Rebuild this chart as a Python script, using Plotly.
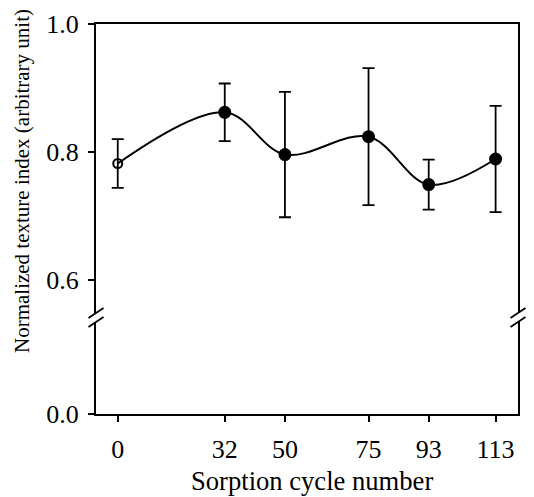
import plotly.graph_objects as go

# ---- data ----
cycles = [0, 32, 50, 75, 93, 113]
texture = [0.782, 0.862, 0.796, 0.824, 0.749, 0.789]
texture_err = [0.038, 0.045, 0.098, 0.107, 0.039, 0.083]
marker_symbols = ["circle-open", "circle", "circle", "circle", "circle", "circle"]
x_tick_vals = [0, 32, 50, 75, 93, 113]
y_ticks_upper = [0.6, 0.8, 1.0]
y_ticks_lower = [0.0]

FONT = "Liberation Serif, Times New Roman, serif"
W, H = 534, 497
ML, MR, MT, MB = 96, 16, 24, 83
PW = W - ML - MR
PH = H - MT - MB

upper_dom = [0.259, 1.0]
lower_dom = [0.0, 0.236]

fig = go.Figure()

fig.add_trace(go.Scatter(
    x=cycles, y=texture,
    mode="lines+markers",
    line=dict(color="black", width=2, shape="spline", smoothing=1.0),
    marker=dict(symbol=marker_symbols, size=[9, 11, 11, 11, 11, 11],
                color="black", opacity=1, line=dict(color="black", width=2)),
    error_y=dict(type="data", array=texture_err, visible=True,
                 color="black", thickness=1.8, width=6),
    xaxis="x", yaxis="y",
    showlegend=False, hoverinfo="skip",
))
# empty helper traces so that the lower panel and the top frame axis exist
fig.add_trace(go.Scatter(x=[None], y=[None], xaxis="x", yaxis="y2",
                         mode="markers", showlegend=False, hoverinfo="skip"))
fig.add_trace(go.Scatter(x=[None], y=[None], xaxis="x2", yaxis="y",
                         mode="markers", showlegend=False, hoverinfo="skip"))

axis_common = dict(showline=True, linecolor="black", linewidth=2,
                   showgrid=False, zeroline=False, automargin=False,
                   tickfont=dict(family=FONT, size=26, color="black"))

fig.update_layout(
    width=W, height=H,
    margin=dict(l=ML, r=MR, t=MT, b=MB),
    paper_bgcolor="white", plot_bgcolor="white",
    font=dict(family=FONT, color="black"),
    xaxis=dict(**axis_common, range=[-6.5, 119.7], anchor="y2",
               tickmode="array", tickvals=x_tick_vals,
               ticks="outside", ticklen=6, tickwidth=2, tickcolor="black",
               ticklabelstandoff=5),
    xaxis2=dict(showline=True, linecolor="black", linewidth=2,
                overlaying="x", matches="x", side="top", anchor="y",
                automargin=False,
                showticklabels=False, ticks="", showgrid=False, zeroline=False),
    yaxis=dict(**axis_common, domain=upper_dom, range=[0.5484, 1.0],
               anchor="x", mirror=True, ticklabelstandoff=4,
               tickmode="array", tickvals=y_ticks_upper, tickformat=".1f",
               ticks="outside", ticklen=6, tickwidth=2, tickcolor="black"),
    yaxis2=dict(**axis_common, domain=lower_dom, range=[0, 0.2],
                anchor="x", mirror=True, ticklabelstandoff=4,
                tickmode="array", tickvals=y_ticks_lower, tickformat=".1f",
                ticks="outside", ticklen=6, tickwidth=2, tickcolor="black"),
)

# axis titles as annotations
fig.add_annotation(
    text="Sorption cycle number",
    xref="paper", yref="paper",
    x=(312 - ML) / PW, y=(MT + PH - 481) / PH,
    xanchor="center", yanchor="middle", showarrow=False,
    font=dict(family=FONT, size=26.6, color="black"),
)
fig.add_annotation(
    text="Normalized texture index (arbitrary unit)",
    xref="paper", yref="paper",
    x=(22 - ML) / PW, y=(MT + PH - 181) / PH,
    xanchor="center", yanchor="middle",
    textangle=-90, showarrow=False,
    font=dict(family=FONT, size=21, color="black"),
)

# axis break marks
dx = 7.5 / PW
dy = 5.0 / PH
for cx in (0.0, 1.0):
    for cy in (upper_dom[0], lower_dom[1]):
        fig.add_shape(type="line", xref="paper", yref="paper",
                      x0=cx - dx, y0=cy - dy, x1=cx + dx, y1=cy + dy,
                      line=dict(color="black", width=1.8))

fig.write_html("out.html", config={"displayModeBar": False},
               post_script="document.body.style.margin='0';document.body.style.overflow='hidden';")
